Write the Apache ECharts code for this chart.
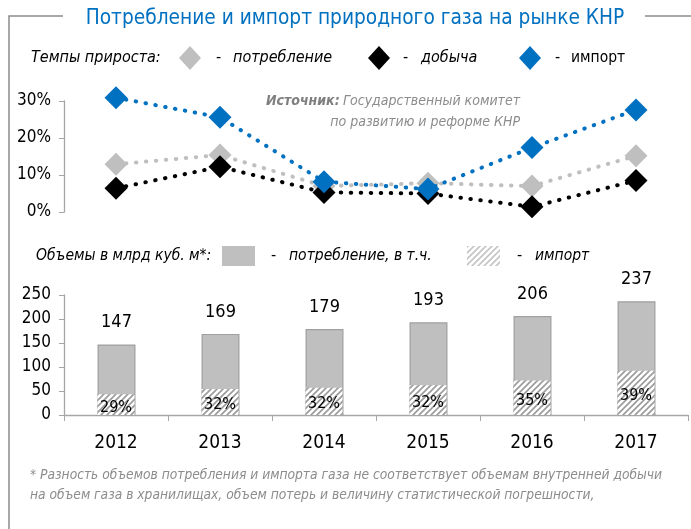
<!DOCTYPE html>
<html>
<head>
<meta charset="utf-8">
<script src="https://cdn.jsdelivr.net/npm/echarts@6/dist/echarts.min.js"></script>
<style>
  html, body { margin: 0; padding: 0; background: #fff; }
  #chart { width: 691px; height: 529px; }
</style>
</head>
<body>
<div id="chart"></div>
<script>
var FONT = "'Liberation Sans Narrow', 'Arial Narrow', 'DejaVu Sans Condensed', sans-serif";

// data
var years = ['2012', '2013', '2014', '2015', '2016', '2017'];
var growthConsumption = [0.129, 0.154, 0.070, 0.078, 0.070, 0.152];
var growthProduction = [0.064, 0.122, 0.053, 0.050, 0.014, 0.085];
var growthImport = [0.309, 0.256, 0.082, 0.062, 0.174, 0.276];
var consumption = [147, 169, 179, 193, 206, 237];
var imports = [43, 54, 57, 62, 72, 92];
var importShare = ['29%', '32%', '32%', '32%', '35%', '39%'];

function makeHatch(bg, fg) {
    var c = document.createElement('canvas');
    c.width = 6; c.height = 6;
    var ctx = c.getContext('2d');
    ctx.fillStyle = bg;
    ctx.fillRect(0, 0, 6, 6);
    ctx.strokeStyle = fg;
    ctx.lineWidth = 1.6;
    ctx.beginPath();
    ctx.moveTo(0, 6); ctx.lineTo(6, 0);
    ctx.moveTo(-1, 1); ctx.lineTo(1, -1);
    ctx.moveTo(5, 7); ctx.lineTo(7, 5);
    ctx.stroke();
    return c;
}
var hatch = makeHatch('#ffffff', '#9a9a9a');
var hatchLight = makeHatch('#ffffff', '#c4c4c4');

var chart = echarts.init(document.getElementById('chart'), null, { renderer: 'canvas' });

var dotLine = function (color) {
    return { color: color, width: 4, type: [0.5, 9.5], cap: 'round' };
};

function diamond(cx, cy, color) {
    return {
        type: 'polygon',
        shape: { points: [[cx, cy - 12], [cx + 11, cy], [cx, cy + 12], [cx - 11, cy]] },
        style: { fill: color }
    };
}
function txt(x, y, s, opt) {
    opt = opt || {};
    return {
        type: 'text', x: x, y: y,
        style: {
            text: s, fill: opt.color || '#000',
            font: (opt.italic === false ? '' : 'italic ') + (opt.bold ? 'bold ' : '') + (opt.size || 15) + 'px ' + FONT,
            align: opt.align || 'left', verticalAlign: 'middle'
        }
    };
}

var option = {
    animation: false,
    textStyle: { fontFamily: FONT },
    grid: [
        { left: 64, width: 624, top: 101, height: 111 },
        { left: 64, width: 624, top: 295, height: 120 }
    ],
    xAxis: [
        { type: 'category', gridIndex: 0, data: years, show: false },
        {
            type: 'category', gridIndex: 1, data: years,
            axisLine: { lineStyle: { color: '#a6a6a6', width: 1.3 } },
            axisTick: { show: true, length: 6, lineStyle: { color: '#a6a6a6' } },
            axisLabel: { color: '#000', fontSize: 19, margin: 19, fontFamily: FONT }
        }
    ],
    yAxis: [
        {
            type: 'value', gridIndex: 0, min: 0, max: 0.3, interval: 0.1,
            splitLine: { show: false },
            axisLine: { show: true, lineStyle: { color: '#a6a6a6', width: 1.3 } },
            axisTick: { show: true, length: 5, lineStyle: { color: '#a6a6a6' } },
            axisLabel: {
                color: '#000', fontSize: 17, margin: 13, fontFamily: FONT,
                formatter: function (v) { return Math.round(v * 100) + '%'; }
            }
        },
        {
            type: 'value', gridIndex: 1, min: 0, max: 250, interval: 50,
            splitLine: { show: false },
            axisLine: { show: true, lineStyle: { color: '#a6a6a6', width: 1.3 } },
            axisTick: { show: true, length: 5, lineStyle: { color: '#a6a6a6' } },
            axisLabel: { color: '#000', fontSize: 17, margin: 13, fontFamily: FONT }
        }
    ],
    series: [
        {
            name: 'потребление', type: 'line', xAxisIndex: 0, yAxisIndex: 0,
            data: growthConsumption, clip: false, z: 2,
            symbol: 'diamond', symbolSize: 23, itemStyle: { color: '#bfbfbf' },
            lineStyle: dotLine('#bfbfbf')
        },
        {
            name: 'добыча', type: 'line', xAxisIndex: 0, yAxisIndex: 0,
            data: growthProduction, clip: false, z: 3,
            symbol: 'diamond', symbolSize: 23, itemStyle: { color: '#000000' },
            lineStyle: dotLine('#000000')
        },
        {
            name: 'импорт', type: 'line', xAxisIndex: 0, yAxisIndex: 0,
            data: growthImport, clip: false, z: 4,
            symbol: 'diamond', symbolSize: 23, itemStyle: { color: '#0070c0' },
            lineStyle: dotLine('#0070c0')
        },
        {
            name: 'потребление, в т.ч.', type: 'bar', xAxisIndex: 1, yAxisIndex: 1,
            data: consumption, barWidth: 38,
            itemStyle: { color: '#bfbfbf', borderColor: '#a0a0a0', borderWidth: 1.2 },
            label: {
                show: true, position: 'top', distance: 13, color: '#000',
                fontSize: 18, fontFamily: FONT
            }
        },
        {
            name: 'импорт ', type: 'bar', xAxisIndex: 1, yAxisIndex: 1,
            data: imports, barWidth: 37, barGap: '-100%',
            itemStyle: { color: { image: hatch, repeat: 'repeat' } },
            label: {
                show: true, position: 'inside', offset: [0, 3], color: '#000',
                fontSize: 16, fontFamily: FONT,
                formatter: function (p) { return importShare[p.dataIndex]; }
            }
        }
    ],
    graphic: [
        // frame
        { type: 'polyline', shape: { points: [[63, 16], [9, 16], [9, 529]] },
          style: { stroke: '#8c8c8c', lineWidth: 1.5, fill: null } },
        { type: 'line', shape: { x1: 645, y1: 16, x2: 691, y2: 16 },
          style: { stroke: '#8c8c8c', lineWidth: 1.5 } },
        txt(355, 19, 'Потребление и импорт природного газа на рынке КНР',
            { italic: false, size: 20.7, color: '#0070c0', align: 'center' }),
        // legend for growth rates
        txt(31, 58, 'Темпы прироста:', { size: 16 }),
        diamond(190, 58, '#bfbfbf'),
        txt(216, 58, '-', { italic: false, size: 16 }),
        txt(233, 58, 'потребление', { size: 16 }),
        diamond(379, 58, '#000000'),
        txt(403, 58, '-', { italic: false, size: 16 }),
        txt(421, 58, 'добыча', { size: 16 }),
        diamond(530, 58, '#0070c0'),
        txt(555, 58, '-', { italic: false, size: 16 }),
        txt(571, 58, 'импорт', { italic: false, size: 15.5 }),
        // source
        {
            type: 'text', x: 520, y: 101,
            style: {
                rich: {
                    b: { font: 'italic bold 14px ' + FONT, fill: '#7f7f7f' },
                    n: { font: 'italic 14px ' + FONT, fill: '#8c8c8c' }
                },
                text: '{b|Источник:} {n|Государственный комитет}',
                align: 'right', verticalAlign: 'middle'
            }
        },
        txt(520, 122, 'по развитию и реформе КНР', { size: 14, color: '#8c8c8c', align: 'right' }),
        // legend for volumes
        txt(36, 256, 'Объемы в млрд куб. м*:', { size: 15.5 }),
        { type: 'rect', shape: { x: 222, y: 246, width: 33, height: 20 }, style: { fill: '#bfbfbf' } },
        txt(271, 256, '-', { italic: false, size: 16 }),
        txt(289, 256, 'потребление, в т.ч.', { size: 15.5 }),
        { type: 'rect', shape: { x: 467, y: 246, width: 33, height: 20 },
          style: { fill: { image: hatchLight, repeat: 'repeat' } } },
        txt(517, 256, '-', { italic: false, size: 16 }),
        txt(535, 256, 'импорт', { size: 15.5 }),
        // footnote
        txt(30, 475, '* Разность объемов потребления и импорта газа не соответствует объемам внутренней добычи',
            { size: 13.7, color: '#8c8c8c' }),
        txt(30, 495, 'на объем газа в хранилищах, объем потерь и величину статистической погрешности,',
            { size: 13.7, color: '#8c8c8c' })
    ]
};

chart.setOption(option);
</script>
</body>
</html>
